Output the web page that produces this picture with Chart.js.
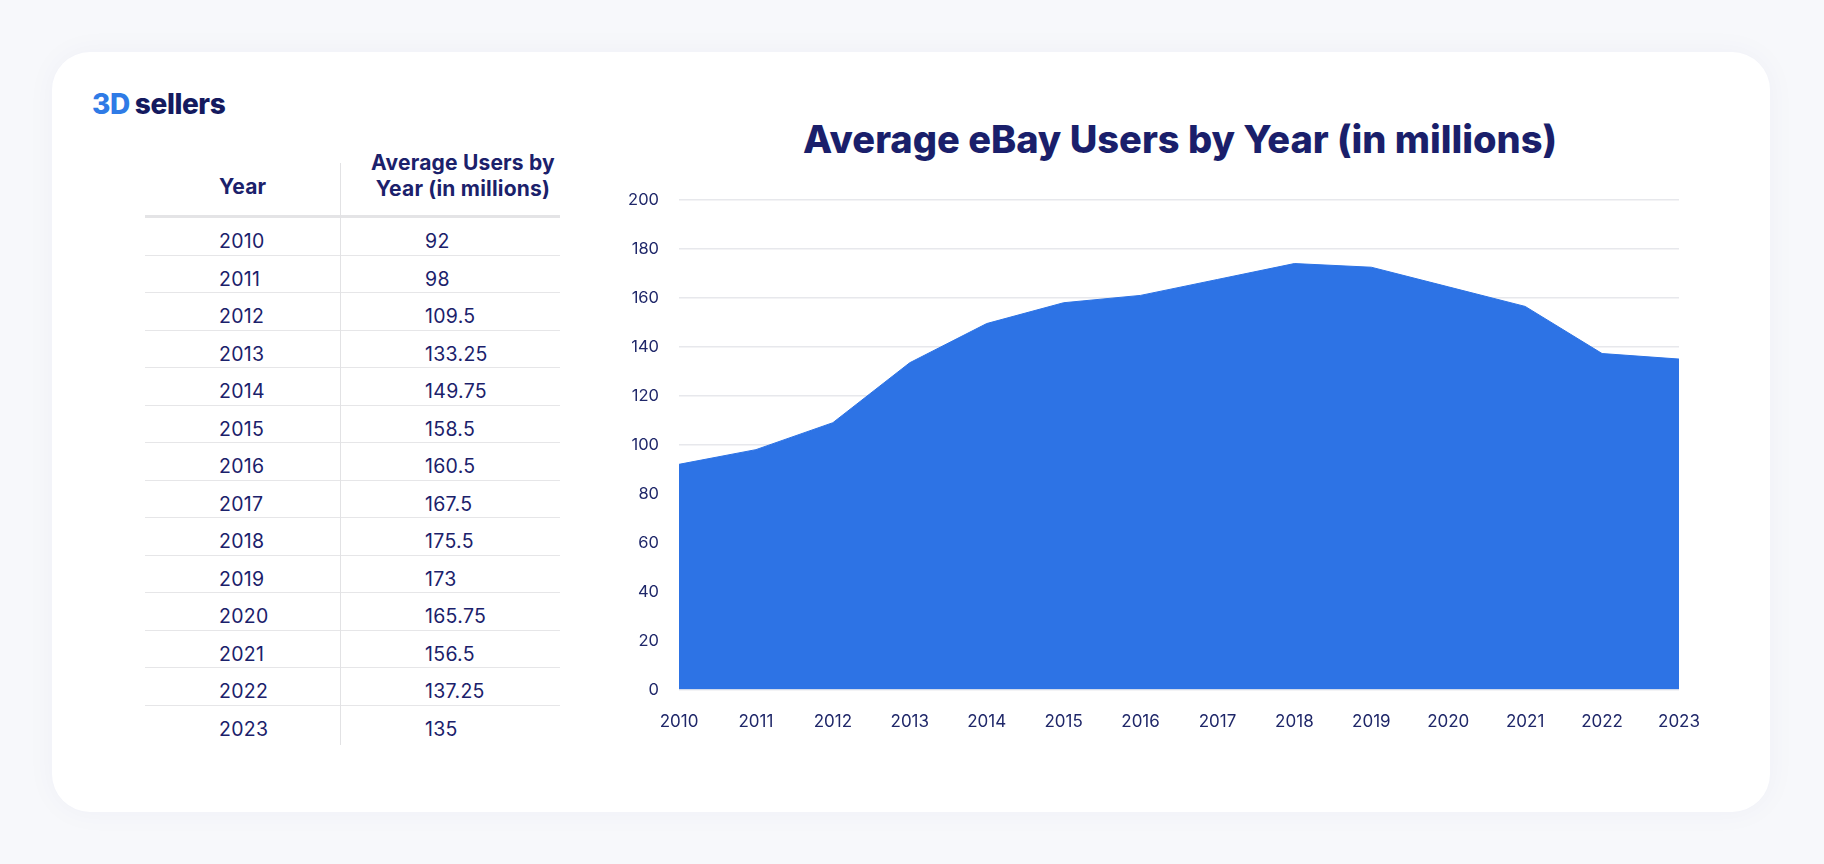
<!DOCTYPE html>
<html>
<head>
    <title>Average eBay Users by Year</title>
    <script src="https://cdn.jsdelivr.net/npm/chart.js"></script>
    <style>
        body { margin: 0; width: 1824px; height: 864px; background: #f7f8fb; font-family: "Inter", "Noto Sans", sans-serif; color: #1b216b; overflow: hidden; }
        .card { position: absolute; left: 52px; top: 52px; width: 1718px; height: 760px; background: #fff; border-radius: 38px; box-shadow: 0 0 30px rgba(40,50,120,0.04); }
        .logo { position: absolute; left: 92px; top: 87px; font-size: 28px; font-weight: 800; letter-spacing: -0.4px; }
        .logo .d3 { color: #2f7be6; margin-right: 5px; }
        .logo .s { color: #141a5f; }
        table { position: absolute; left: 145px; top: 150px; width: 415px; border-collapse: collapse; font-size: 19.5px; letter-spacing: 0.3px; }
        th { font-weight: 700; font-size: 21px; letter-spacing: 0.2px; height: 49px; padding: 0 0 13px 0; border-bottom: 3px solid #e4e4e6; line-height: 26px; vertical-align: bottom; }
        th.y { text-align: left; padding-left: 74px; width: 121px; line-height: 30px; }
        th.v { text-align: center; padding-left: 26px; white-space: nowrap; }
        td { padding: 12px 0 2.5px 0; line-height: 22px; vertical-align: top; border-bottom: 1.5px solid #e6e6e8; }
        tr:last-child td { border-bottom: none; }
        td.y { padding-left: 74px; }
        td.v { padding-left: 85px; }
        .divider { position: absolute; left: 340px; top: 163px; width: 1px; height: 582px; background: #e2e2e4; }
        .title { position: absolute; left: 600px; width: 1160px; top: 116px; text-align: center; font-size: 38px; font-weight: 800; color: #1a1f6b; }
        .wrap { position: absolute; left: 600px; top: 170px; width: 1140px; height: 576px; }
    </style>
</head>
<body>
    <div class="card"></div>
    <div class="logo"><span class="d3">3D</span><span class="s">sellers</span></div>

    <table id="tbl">
        <thead>
            <tr><th class="y">Year</th><th class="v">Average Users by<br>Year (in millions)</th></tr>
        </thead>
        <tbody id="rows"></tbody>
    </table>
    <div class="divider"></div>

    <div class="title">Average eBay Users by Year (in millions)</div>
    <div class="wrap"><canvas id="usersChart"></canvas></div>

    <script>
        // years shown in table and on the x axis
        const years = ["2010", "2011", "2012", "2013", "2014", "2015", "2016", "2017", "2018", "2019", "2020", "2021", "2022", "2023"];
        // values as printed in the table
        const tableValues = ["92", "98", "109.5", "133.25", "149.75", "158.5", "160.5", "167.5", "175.5", "173", "165.75", "156.5", "137.25", "135"];
        // values as plotted in the area chart
        const chartValues = [92, 98, 109, 133.5, 149.5, 158, 161, 167.5, 174, 172.5, 164.5, 156.5, 137.25, 135];
        const yTicks = [0, 20, 40, 60, 80, 100, 120, 140, 160, 180, 200];

        // fill the table
        var rows = document.getElementById("rows");
        for (var i = 0; i < years.length; i++) {
            var tr = document.createElement("tr");
            tr.innerHTML = '<td class="y">' + years[i] + '</td><td class="v">' + tableValues[i] + '</td>';
            rows.appendChild(tr);
        }

        var ctx = document.getElementById("usersChart").getContext("2d");
        var usersChart = new Chart(ctx, {
            type: "line",
            data: {
                labels: years,
                datasets: [{
                    label: "Average Users",
                    data: chartValues,
                    fill: "origin",
                    backgroundColor: "#2d73e5",
                    borderColor: "#2d73e5",
                    borderWidth: 1,
                    pointRadius: 0,
                    tension: 0
                }]
            },
            options: {
                responsive: true,
                maintainAspectRatio: false,
                animation: false,
                layout: { padding: { top: 22, right: 61, bottom: 0, left: 0 } },
                plugins: {
                    legend: { display: false },
                    tooltip: { enabled: false }
                },
                scales: {
                    x: {
                        offset: false,
                        grid: { display: false },
                        border: { display: false },
                        ticks: {
                            color: "#1f2769",
                            font: { family: "Inter", size: 17 },
                            padding: 14,
                            maxRotation: 0,
                            autoSkip: false
                        }
                    },
                    y: {
                        min: 0,
                        max: 200,
                        z: 1,
                        afterFit: function (scale) { scale.width = 79; },
                        afterBuildTicks: function (scale) { scale.ticks = yTicks.map(v => ({ value: v })); },
                        grid: { color: "rgba(20,30,70,0.1)", lineWidth: 1.5, drawTicks: false },
                        border: { display: false },
                        ticks: {
                            color: "#1f2769",
                            font: { family: "Inter", size: 16.5 },
                            padding: 20
                        }
                    }
                }
            }
        });
    </script>
</body>
</html>
